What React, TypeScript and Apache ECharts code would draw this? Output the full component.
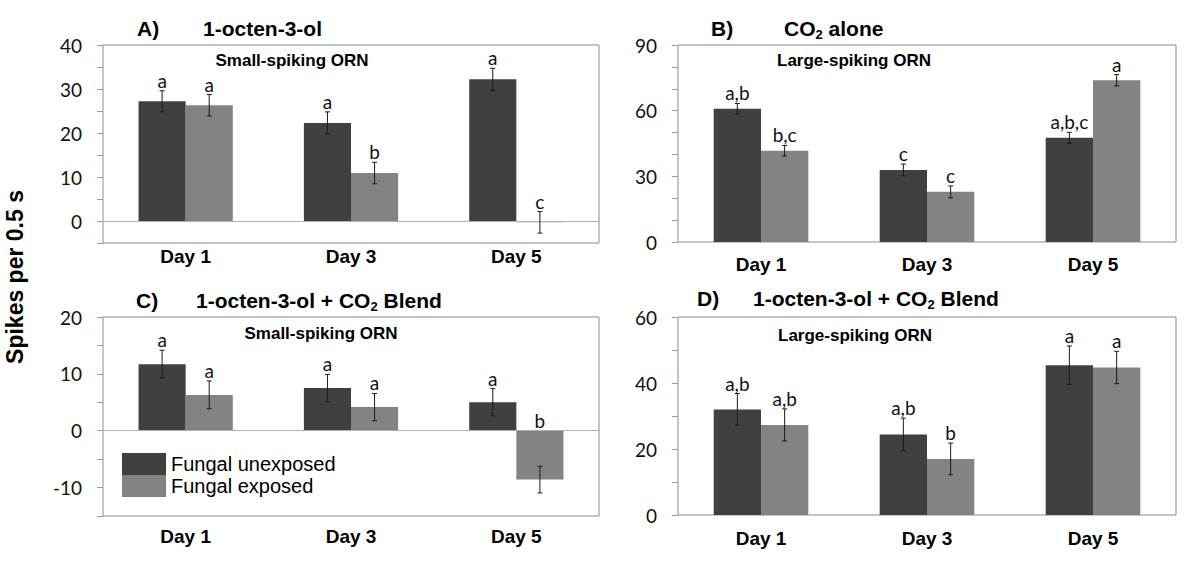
import React, { useEffect, useRef } from 'react';
import * as echarts from 'echarts';

const days = ['Day 1', 'Day 3', 'Day 5'];
const seriesNames = ['Fungal unexposed', 'Fungal exposed'];

// Panel A: 1-octen-3-ol, small-spiking ORN
const aUnexposed = [27.2, 22.3, 32.2];
const aUnexposedErr = [2.4, 2.5, 2.5];
const aExposed = [26.3, 10.9, -0.3];
const aExposedErr = [2.45, 2.45, 2.45];
const aUnexposedLetters = ['a', 'a', 'a'];
const aExposedLetters = ['a', 'b', 'c'];

// Panel B: CO2 alone, large-spiking ORN
const bUnexposed = [60.9, 32.9, 47.6];
const bUnexposedErr = [2.4, 2.7, 2.5];
const bExposed = [41.7, 22.9, 73.9];
const bExposedErr = [2.4, 2.7, 2.6];
const bUnexposedLetters = ['a,b', 'c', 'a,b,c'];
const bExposedLetters = ['b,c', 'c', 'a'];

// Panel C: blend, small-spiking ORN
const cUnexposed = [11.7, 7.5, 5.0];
const cUnexposedErr = [2.45, 2.4, 2.4];
const cExposed = [6.3, 4.15, -8.6];
const cExposedErr = [2.45, 2.4, 2.35];
const cUnexposedLetters = ['a', 'a', 'a'];
const cExposedLetters = ['a', 'a', 'b'];

// Panel D: blend, large-spiking ORN
const dUnexposed = [32.0, 24.4, 45.4];
const dUnexposedErr = [4.8, 4.95, 5.8];
const dExposed = [27.3, 17.0, 44.7];
const dExposedErr = [4.85, 4.8, 4.9];
const dUnexposedLetters = ['a,b', 'a,b', 'a'];
const dExposedLetters = ['a,b', 'b', 'a'];

// Axis scales [min, max, tick interval, label every]
const aScale = [-5, 40, 5, 10];
const bScale = [0, 90, 10, 30];
const cScale = [-15, 20, 5, 10];
const dScale = [0, 60, 10, 20];

const DARK = '#404040';
const LIGHT = '#838383';
const BAR_GAP = '43%';
const HALF_OFFSET = 0.1425;

type Panel = {
  grid: { left: number; top: number; width: number; height: number };
  scale: number[];
  unexposed: number[];
  unexposedErr: number[];
  exposed: number[];
  exposedErr: number[];
  unexLetters: string[];
  expLetters: string[];
  labelMargin: number;
  zeroLine: boolean;
};

const panels: Panel[] = [
  {
    grid: { left: 103, top: 45, width: 496, height: 198 },
    scale: aScale,
    unexposed: aUnexposed, unexposedErr: aUnexposedErr,
    exposed: aExposed, exposedErr: aExposedErr,
    unexLetters: aUnexposedLetters, expLetters: aExposedLetters,
    labelMargin: 4, zeroLine: true,
  },
  {
    grid: { left: 678, top: 45, width: 498, height: 197 },
    scale: bScale,
    unexposed: bUnexposed, unexposedErr: bUnexposedErr,
    exposed: bExposed, exposedErr: bExposedErr,
    unexLetters: bUnexposedLetters, expLetters: bExposedLetters,
    labelMargin: 13, zeroLine: false,
  },
  {
    grid: { left: 103, top: 317, width: 496, height: 199 },
    scale: cScale,
    unexposed: cUnexposed, unexposedErr: cUnexposedErr,
    exposed: cExposed, exposedErr: cExposedErr,
    unexLetters: cUnexposedLetters, expLetters: cExposedLetters,
    labelMargin: 11, zeroLine: true,
  },
  {
    grid: { left: 678, top: 317, width: 498, height: 198 },
    scale: dScale,
    unexposed: dUnexposed, unexposedErr: dUnexposedErr,
    exposed: dExposed, exposedErr: dExposedErr,
    unexLetters: dUnexposedLetters, expLetters: dExposedLetters,
    labelMargin: 14, zeroLine: false,
  },
];

function errSeries(idx: number, values: number[], errs: number[], letters: string[], side: number) {
  return {
    type: 'custom',
    xAxisIndex: idx,
    yAxisIndex: idx,
    silent: true,
    z: 5,
    data: values.map((v, i) => [i, v, errs[i]]),
    renderItem: (params: any, api: any) => {
      const i = api.value(0);
      const v = api.value(1);
      const e = api.value(2);
      const band = api.size([1, 0])[0];
      const cx = api.coord([i, v])[0] + side * band * HALF_OFFSET;
      const yTop = api.coord([i, v + e])[1];
      const yBot = api.coord([i, v - e])[1];
      const yLab = api.coord([i, Math.max(v + e, 0)])[1];
      const cap = 2.5;
      const ls = { stroke: '#1a1a1a', lineWidth: 1 };
      return {
        type: 'group',
        children: [
          { type: 'line', shape: { x1: cx, y1: yTop, x2: cx, y2: yBot }, style: ls },
          { type: 'line', shape: { x1: cx - cap, y1: yTop, x2: cx + cap, y2: yTop }, style: ls },
          { type: 'line', shape: { x1: cx - cap, y1: yBot, x2: cx + cap, y2: yBot }, style: ls },
          {
            type: 'text',
            x: cx,
            y: yLab - 1,
            style: {
              text: letters[params.dataIndex],
              align: 'center',
              verticalAlign: 'bottom',
              textAlign: 'center',
              textVerticalAlign: 'bottom',
              fontSize: 19,
              fontFamily: 'Lato',
              fill: '#111',
            },
          },
        ],
      };
    },
  };
}

const richStyles = {
  t: { fontSize: 21, fontWeight: 'bold', fontFamily: 'Liberation Sans', fill: '#000', color: '#000', lineHeight: 26 },
  s: { fontSize: 13, fontWeight: 'bold', fontFamily: 'Liberation Sans', fill: '#000', color: '#000', lineHeight: 12, verticalAlign: 'bottom' },
};

const titles = [
  { tag: 'A)', tagX: 137, mainX: 203, y: 28, main: '{t|1-octen-3-ol}', sub: 'Small-spiking ORN', subX: 292, subY: 60 },
  { tag: 'B)', tagX: 711, mainX: 784, y: 28, main: '{t|CO}{s|2}{t| alone}', sub: 'Large-spiking ORN', subX: 854, subY: 60 },
  { tag: 'C)', tagX: 136, mainX: 196, y: 300, main: '{t|1-octen-3-ol + CO}{s|2}{t| Blend}', sub: 'Small-spiking ORN', subX: 321, subY: 333 },
  { tag: 'D)', tagX: 697, mainX: 753, y: 298, main: '{t|1-octen-3-ol + CO}{s|2}{t| Blend}', sub: 'Large-spiking ORN', subX: 855, subY: 335 },
];

export default function App() {
  const ref = useRef<HTMLDivElement>(null);
  useEffect(() => {
    if (!ref.current) return;
    const chart = echarts.init(ref.current, undefined, { renderer: 'svg' });

    const grids: any[] = [];
    const xAxes: any[] = [];
    const yAxes: any[] = [];
    const series: any[] = [];

    panels.forEach((p, idx) => {
      grids.push({
        ...p.grid,
        show: true,
        borderColor: '#8c8c8c',
        borderWidth: 1,
        backgroundColor: 'transparent',
        containLabel: false,
      });
      xAxes.push({
        type: 'category',
        gridIndex: idx,
        data: days,
        axisLine: { show: false },
        axisTick: { show: false },
        axisLabel: {
          margin: p.labelMargin,
          fontSize: 19,
          fontWeight: 'bold',
          fontFamily: 'Liberation Sans',
          color: '#000',
        },
      });
      const [min, max, interval, every] = p.scale;
      yAxes.push({
        type: 'value',
        gridIndex: idx,
        min,
        max,
        interval,
        axisLine: { show: false },
        axisTick: { show: true, length: 6, lineStyle: { color: '#9a9a9a' } },
        splitLine: { show: false },
        axisLabel: {
          margin: 21,
          fontSize: 19,
          fontFamily: 'Lato',
          color: '#111',
          formatter: (v: number) => (Math.round(v) % every === 0 ? String(v) : ''),
        },
      });
      series.push({
        type: 'bar',
        name: seriesNames[0],
        xAxisIndex: idx,
        yAxisIndex: idx,
        data: p.unexposed,
        barGap: '0%',
        barCategoryGap: BAR_GAP,
        itemStyle: { color: DARK },
        markLine: p.zeroLine
          ? {
              silent: true,
              symbol: 'none',
              label: { show: false },
              lineStyle: { color: '#b0b0b0', type: 'solid', width: 1 },
              data: [{ yAxis: 0 }],
            }
          : undefined,
      });
      series.push({
        type: 'bar',
        name: seriesNames[1],
        xAxisIndex: idx,
        yAxisIndex: idx,
        data: p.exposed,
        barGap: '0%',
        barCategoryGap: BAR_GAP,
        itemStyle: { color: LIGHT },
      });
      series.push(errSeries(idx, p.unexposed, p.unexposedErr, p.unexLetters, -1));
      series.push(errSeries(idx, p.exposed, p.exposedErr, p.expLetters, 1));
    });

    const graphics: any[] = [
      {
        type: 'text',
        x: 15,
        y: 277,
        rotation: Math.PI / 2,
        style: {
          text: 'Spikes per 0.5 s',
          font: 'bold 23px "Liberation Sans"',
          align: 'center',
          verticalAlign: 'middle',
          textAlign: 'center',
          textVerticalAlign: 'middle',
          fill: '#000',
        },
      },
    ];
    titles.forEach((t) => {
      graphics.push({
        type: 'text',
        x: t.tagX,
        y: t.y,
        style: {
          text: t.tag,
          font: 'bold 21px "Liberation Sans"',
          verticalAlign: 'middle',
          textVerticalAlign: 'middle',
          fill: '#000',
        },
      });
      graphics.push({
        type: 'text',
        x: t.mainX,
        y: t.y,
        style: {
          text: t.main,
          rich: richStyles,
          verticalAlign: 'middle',
          textVerticalAlign: 'middle',
          fill: '#000',
        },
      });
      graphics.push({
        type: 'text',
        x: t.subX,
        y: t.subY,
        style: {
          text: t.sub,
          font: 'bold 17px "Liberation Sans"',
          align: 'center',
          verticalAlign: 'middle',
          textAlign: 'center',
          textVerticalAlign: 'middle',
          fill: '#000',
        },
      });
    });

    chart.setOption({
      animation: false,
      backgroundColor: '#ffffff',
      textStyle: { fontFamily: 'Liberation Sans' },
      grid: grids,
      xAxis: xAxes,
      yAxis: yAxes,
      legend: {
        data: seriesNames,
        orient: 'vertical',
        left: 122,
        top: 453,
        itemWidth: 44,
        itemHeight: 22,
        itemGap: 0,
        icon: 'rect',
        selectedMode: false,
        padding: 0,
        textStyle: { fontSize: 20, fontFamily: 'Liberation Sans', color: '#000' },
      },
      series,
      graphic: graphics,
    });

    return () => chart.dispose();
  }, []);

  return (
    <div
      ref={ref}
      style={{ position: 'fixed', left: 0, top: 0, width: 1200, height: 562, background: '#fff' }}
    />
  );
}
